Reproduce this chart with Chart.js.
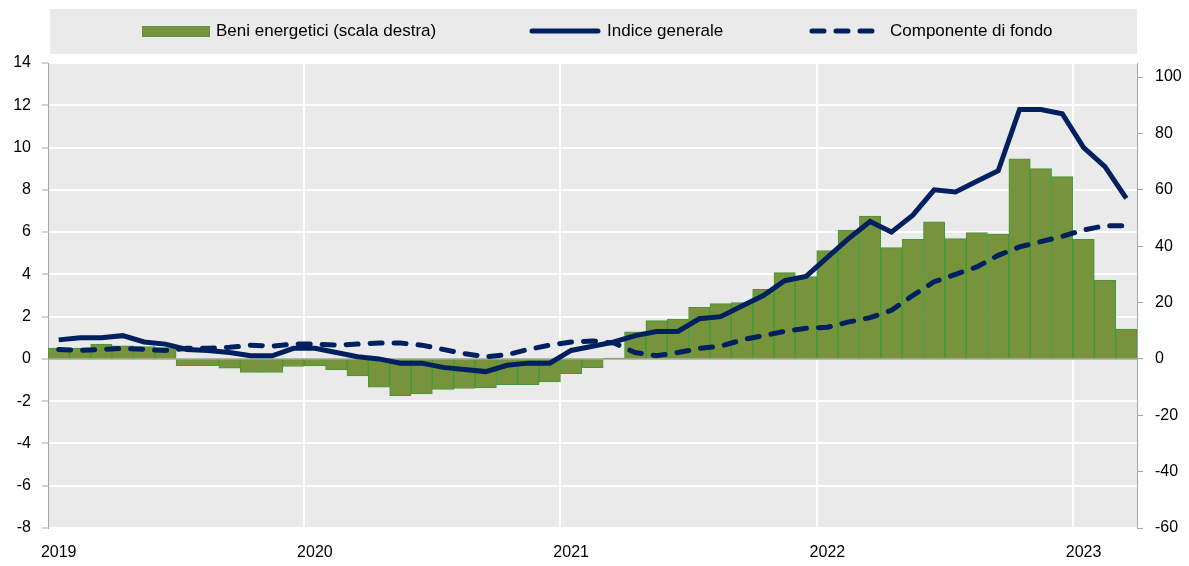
<!DOCTYPE html>
<html>
<head>
<meta charset="utf-8">
<script src="https://cdn.jsdelivr.net/npm/chart.js@4.4.0/dist/chart.umd.min.js"></script>
<style>
  body { margin: 0; background: #fff; }
</style>
</head>
<body>
<canvas id="inflChart" width="1189" height="566"></canvas>
<script>
const months = [
  '2019-01','2019-02','2019-03','2019-04','2019-05','2019-06','2019-07','2019-08','2019-09','2019-10','2019-11','2019-12',
  '2020-01','2020-02','2020-03','2020-04','2020-05','2020-06','2020-07','2020-08','2020-09','2020-10','2020-11','2020-12',
  '2021-01','2021-02','2021-03','2021-04','2021-05','2021-06','2021-07','2021-08','2021-09','2021-10','2021-11','2021-12',
  '2022-01','2022-02','2022-03','2022-04','2022-05','2022-06','2022-07','2022-08','2022-09','2022-10','2022-11','2022-12',
  '2023-01','2023-02','2023-03'
];
const yearLabels = ['2019', '2020', '2021', '2022', '2023'];
const leftTicks = [-8, -6, -4, -2, 0, 2, 4, 6, 8, 10, 12, 14];
const rightTicks = [-60, -40, -20, 0, 20, 40, 60, 80, 100];

// beni energetici, scala destra
const beniEnergetici = [
  3.8, 3.8, 5.3, 4.6, 4.4, 4.0, -2.4, -2.4, -3.3, -4.8, -4.8, -2.7,
  -2.5, -3.9, -6.0, -10.0, -13.0, -12.4, -10.8, -10.5, -10.3, -9.1, -9.1, -8.2,
  -5.2, -3.1, 0.3, 9.6, 13.6, 14.1, 18.3, 19.6, 20.0, 24.7, 30.6, 29.2,
  38.4, 45.7, 50.7, 39.5, 42.4, 48.6, 42.7, 44.8, 44.3, 71.0, 67.5, 64.7,
  42.4, 28.0, 10.6
];
const indiceGenerale = [
  0.9, 1.0, 1.0, 1.1, 0.8, 0.7, 0.45, 0.4, 0.3, 0.15, 0.15, 0.5,
  0.5, 0.3, 0.1, 0.0, -0.2, -0.2, -0.4, -0.5, -0.6, -0.3, -0.2, -0.2,
  0.4, 0.6, 0.8, 1.1, 1.3, 1.3, 1.9, 2.0, 2.5, 3.0, 3.7, 3.9,
  4.8, 5.7, 6.5, 6.0, 6.8, 8.0, 7.9, 8.4, 8.9, 11.8, 11.8, 11.6,
  10.0, 9.1, 7.6
];
const componenteFondo = [
  0.45, 0.4, 0.45, 0.5, 0.45, 0.4, 0.5, 0.5, 0.55, 0.65, 0.6, 0.7,
  0.7, 0.65, 0.7, 0.75, 0.75, 0.65, 0.45, 0.25, 0.1, 0.2, 0.45, 0.65,
  0.8, 0.85, 0.75, 0.3, 0.15, 0.3, 0.5, 0.6, 0.9, 1.1, 1.3, 1.45,
  1.5, 1.75, 1.95, 2.3, 3.0, 3.65, 4.0, 4.35, 4.9, 5.3, 5.55, 5.8,
  6.1, 6.3, 6.3
];

const GREEN = '#77933c';
const GREEN_EDGE = '#3d9a3d';
const NAVY = '#002060';
const PLOT_BG = '#eaeaea';
const AXIS_GRAY = '#a6a6a6';
const FONT = "'Liberation Sans', Arial, sans-serif";

// grey plot background + legend box
const backgroundPlugin = {
  id: 'plotBackground',
  beforeDraw(chart) {
    const { ctx, chartArea } = chart;
    ctx.save();
    ctx.fillStyle = PLOT_BG;
    ctx.fillRect(chartArea.left, chartArea.top, chartArea.right - chartArea.left, chartArea.bottom - chartArea.top);
    ctx.fillRect(chartArea.left + 2, 9, chartArea.right - chartArea.left - 2, 45);
    ctx.restore();
  },
  afterDraw(chart) {
    const ctx = chart.ctx;
    const y = 31;
    ctx.save();
    ctx.font = '17px ' + FONT;
    ctx.textBaseline = 'middle';

    // bar item
    ctx.fillStyle = GREEN;
    ctx.fillRect(142, 26, 68, 11);
    ctx.strokeStyle = GREEN_EDGE;
    ctx.lineWidth = 1;
    ctx.setLineDash([1, 1]);
    ctx.strokeRect(142.5, 26.5, 67, 10);
    ctx.setLineDash([]);
    ctx.fillStyle = '#000';
    ctx.fillText('Beni energetici (scala destra)', 216, y);

    // solid line item
    ctx.strokeStyle = NAVY;
    ctx.lineWidth = 5;
    ctx.lineCap = 'round';
    ctx.beginPath();
    ctx.moveTo(532, y);
    ctx.lineTo(598, y);
    ctx.stroke();
    ctx.fillText('Indice generale', 607, y);

    // dashed line item
    ctx.setLineDash([12, 12]);
    ctx.beginPath();
    ctx.moveTo(812, y);
    ctx.lineTo(880, y);
    ctx.stroke();
    ctx.setLineDash([]);
    ctx.fillText('Componente di fondo', 890, y);
    ctx.restore();
  }
};

const ctx = document.getElementById('inflChart').getContext('2d');

const chart = new Chart(ctx, {
  type: 'bar',
  data: {
    labels: months,
    datasets: [
      {
        type: 'line',
        label: 'Indice generale',
        data: indiceGenerale,
        yAxisID: 'y',
        borderColor: NAVY,
        borderWidth: 5,
        pointRadius: 0,
        tension: 0,
        fill: false,
        order: 1
      },
      {
        type: 'line',
        label: 'Componente di fondo',
        data: componenteFondo,
        yAxisID: 'y',
        borderColor: NAVY,
        borderWidth: 5,
        borderDash: [12, 12],
        borderCapStyle: 'round',
        pointRadius: 0,
        tension: 0,
        fill: false,
        order: 2
      },
      {
        type: 'bar',
        label: 'Beni energetici (scala destra)',
        data: beniEnergetici,
        yAxisID: 'y2',
        backgroundColor: GREEN,
        borderColor: GREEN_EDGE,
        borderWidth: 1,
        barPercentage: 1.0,
        categoryPercentage: 1.0,
        order: 3
      }
    ]
  },
  options: {
    responsive: false,
    animation: false,
    layout: { padding: { top: 63, left: 0, right: 0, bottom: 0 } },
    plugins: {
      legend: { display: false },
      tooltip: { enabled: false }
    },
    scales: {
      x: {
        offset: true,
        border: { display: false },
        grid: {
          offset: true,
          drawTicks: false,
          lineWidth: 2,
          color: (c) => (c.index > 0 && c.index % 12 === 0) ? '#ffffff' : 'rgba(0,0,0,0)'
        },
        ticks: {
          autoSkip: false,
          maxRotation: 0,
          minRotation: 0,
          padding: 15,
          color: '#000',
          font: { family: FONT, size: 16 },
          callback: (value, index) => index % 12 === 0 ? yearLabels[index / 12] : ''
        },
        afterFit: (scale) => { scale.height = 38; }
      },
      y: {
        position: 'left',
        min: -8,
        max: 14,
        border: { display: true, color: AXIS_GRAY, width: 1 },
        grid: {
          lineWidth: 2,
          tickLength: 6,
          color: (c) => c.tick && c.tick.value === 0 ? '#b5b5b5' : '#ffffff',
          tickColor: AXIS_GRAY,
          tickWidth: 1
        },
        ticks: {
          padding: 11,
          color: '#000',
          font: { family: FONT, size: 16 }
        },
        afterBuildTicks: (scale) => {
          scale.ticks = leftTicks.map(v => ({ value: v }));
        },
        afterFit: (scale) => { scale.width = 48; }
      },
      y2: {
        position: 'right',
        min: -60,
        max: 105,
        border: { display: true, color: AXIS_GRAY, width: 1 },
        grid: {
          drawOnChartArea: false,
          tickLength: 6,
          tickColor: AXIS_GRAY,
          tickWidth: 1
        },
        ticks: {
          padding: 12,
          color: '#000',
          font: { family: FONT, size: 16 }
        },
        afterBuildTicks: (scale) => {
          scale.ticks = rightTicks.map(v => ({ value: v }));
        },
        afterFit: (scale) => { scale.width = 52; }
      }
    }
  },
  plugins: [backgroundPlugin]
});
</script>
</body>
</html>
